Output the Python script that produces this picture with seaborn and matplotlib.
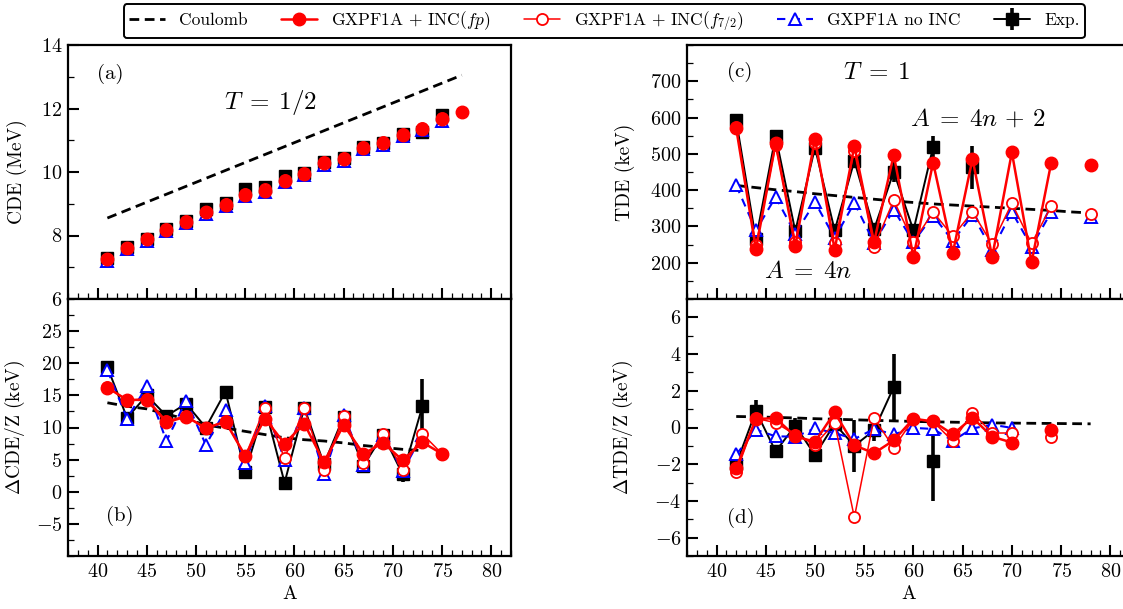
import numpy as np
import pandas as pd
import matplotlib
matplotlib.use("Agg")
import matplotlib.pyplot as plt
import seaborn as sns
from matplotlib.lines import Line2D
from matplotlib.ticker import MultipleLocator

nan = np.nan

# ---------------- data ----------------
A_odd = [41, 43, 45, 47, 49, 51, 53, 55, 57, 59, 61, 63, 65, 67, 69, 71, 73, 75, 77]
A_even = [42, 44, 46, 48, 50, 52, 54, 56, 58, 60, 62, 64, 66, 68, 70, 72, 74, 76, 78]

# panel (a): CDE (MeV)
cde_coul = [8.55, 8.80, 9.05, 9.30, 9.55, 9.80, 10.05, 10.30, 10.55, 10.80, 11.05, 11.30,
            11.55, 11.80, 12.05, 12.30, 12.55, 12.80, 13.05]
cde_fp = [7.26, 7.60, 7.88, 8.17, 8.44, 8.73, 8.96, 9.27, 9.40, 9.72, 9.93, 10.27, 10.40,
          10.75, 10.90, 11.17, 11.35, 11.66, 11.88]
cde_f72 = [7.27, 7.62, 7.90, 8.20, 8.46, 8.75, 8.98, 9.30, 9.45, 9.75, 9.97, 10.30, 10.44,
           10.78, 10.93, 11.20, 11.38, 11.70, nan]
cde_noinc = [7.21, 7.56, 7.84, 8.13, 8.40, 8.69, 8.92, 9.23, 9.37, 9.68, 9.89, 10.23, 10.36,
             10.71, 10.86, 11.13, 11.31, 11.62, nan]
cde_exp = [7.28, 7.65, 7.90, 8.22, 8.47, 8.82, 9.02, 9.48, 9.52, 9.88, 9.97, 10.30, 10.45,
           10.78, 10.92, 11.20, 11.25, 11.80, nan]

# panel (b): Delta CDE / Z (keV)
dcde_coul = [13.85, 13.3, 12.9, 12.1, 11.3, 10.4, 9.9, 9.4, 8.9, 8.4, 8.1, 7.9, 7.6, 7.2,
             6.9, 6.6, 6.4, nan, nan]
dcde_fp = [16.2, 14.3, 14.3, 10.8, 11.7, 9.9, 10.9, 5.6, 11.4, 7.5, 10.6, 4.6, 10.4, 5.9,
           7.6, 4.9, 7.7, 5.9, nan]
dcde_f72 = [16.3, 14.2, 14.5, 11.0, 11.8, 9.9, 11.0, 5.5, 13.1, 5.2, 13.0, 3.4, 11.8, 4.5,
            9.0, 3.4, 9.0, 5.9, nan]
dcde_noinc = [18.9, 11.4, 16.4, 7.9, 14.2, 7.3, 12.7, 4.5, 13.3, 5.0, 13.1, 2.7, 12.0, 4.2,
              8.9, 3.2, 8.9, nan, nan]
dcde_exp = [19.4, 11.5, 15.0, 11.8, 13.7, 10.0, 15.6, 3.0, 13.2, 1.4, 13.1, 4.3, 11.7, 4.0,
            8.9, 2.7, 13.3, nan, nan]
dcde_err = [0.3, 0.3, 0.3, 0.3, 0.3, 0.3, 0.3, 0.3, 0.3, 0.3, 0.3, 0.5, 0.5, 1.0, 0.5, 1.2,
            4.3, nan, nan]

# panel (c): TDE (keV)
tde_coul = [413, 407, 401, 396, 390, 385, 380, 375, 370, 366, 362, 359, 356, 353, 350, 347,
            344, 340, 337]
tde_fp = [570, 237, 529, 246, 542, 236, 522, 257, 497, 216, 476, 227, 486, 216, 504, 201,
          476, nan, 470]
tde_f72 = [575, 248, 524, 258, 531, 255, 508, 244, 372, 257, 340, 273, 340, 251, 364, 253,
           356, nan, 334]
tde_noinc = [413, 289, 381, 280, 367, 268, 365, 255, 346, 257, 330, 260, 332, 235, 340, 244,
             340, nan, 326]
tde_exp = [592, 264, 549, 287, 517, 289, 481, 292, 451, 289, 519, nan, 463, nan, nan, nan,
           nan, nan, nan]
tde_err = [5, 5, 5, 5, 5, 5, 5, 5, 28, 5, 30, nan, 60, nan, nan, nan, nan, nan, nan]

# panel (d): Delta TDE / Z (keV)
dtde_coul = [0.60, 0.58, 0.55, 0.52, 0.48, 0.45, 0.42, 0.39, 0.36, 0.33, 0.31, 0.29, 0.27,
             0.25, 0.24, 0.23, 0.22, 0.21, 0.20]
dtde_fp = [-2.2, 0.46, 0.51, -0.48, -0.78, 0.82, -0.97, -1.4, -0.7, 0.48, 0.33, -0.37, 0.53,
           -0.5, -0.82, nan, -0.12, nan, nan]
dtde_f72 = [-2.45, 0.5, 0.26, -0.39, -0.93, 0.25, -4.9, 0.52, -1.1, 0.45, 0.33, -0.75, 0.79,
            -0.3, -0.3, nan, -0.53, nan, nan]
dtde_noinc = [-1.47, -0.12, -0.48, -0.5, -0.05, -0.3, -0.63, -0.08, -0.38, -0.02, -0.08,
              -0.72, -0.05, 0.15, -0.02, nan, nan, nan, nan]
dtde_exp = [-2.0, 0.9, -1.3, 0.1, -1.5, 0.2, -1.0, -0.15, 2.2, nan, -1.8, nan, nan, nan, nan,
            nan, nan, nan, nan]
dtde_err = [0.2, 0.6, 0.2, 0.4, 0.2, 0.2, 1.4, 0.6, 1.8, nan, 2.2, nan, nan, nan, nan, nan,
            nan, nan, nan]

xticks = [40, 45, 50, 55, 60, 65, 70, 75, 80]

# ---------------- style ----------------
sns.set_style("ticks")
plt.rcParams.update({
    "font.family": ["cmr10", "DejaVu Serif"],
    "mathtext.fontset": "cm",
    "axes.formatter.use_mathtext": True,
    "axes.linewidth": 1.6,
    "axes.edgecolor": "black",
    "xtick.direction": "in",
    "ytick.direction": "in",
    "xtick.major.size": 8, "ytick.major.size": 8,
    "xtick.minor.size": 4, "ytick.minor.size": 4,
    "xtick.major.width": 1.5, "ytick.major.width": 1.5,
    "xtick.minor.width": 0.9, "ytick.minor.width": 0.9,
    "xtick.labelsize": 14.5, "ytick.labelsize": 14.5,
    "axes.labelsize": 14,
    "xtick.color": "black", "ytick.color": "black",
    "text.color": "black", "axes.labelcolor": "black",
})

RED = "#ff0000"
BLUE = "#0000ff"

sty_coul = dict(color="black", lw=2.0, linestyle=(0, (3.5, 2)), zorder=2)
sty_exp = dict(color="black", lw=1.4, marker="s", markersize=8, mfc="black", mec="black",
               mew=1, zorder=3)
sty_noinc = dict(color=BLUE, lw=1.5, linestyle=(0, (4, 3)), marker="^", markersize=8.5,
                 mfc="white", mec=BLUE, mew=1.4, zorder=4)
sty_f72 = dict(color=RED, lw=1.1, marker="o", markersize=8, mfc="white", mec=RED, mew=1.3,
               zorder=5)
sty_fp = dict(color=RED, lw=1.8, marker="o", markersize=9, mfc=RED, mec=RED, mew=1,
              zorder=6)


def draw(ax, x, y, lines=True, **kw):
    x = np.asarray(x, float)
    y = np.asarray(y, float)
    ok = ~np.isnan(y)
    seg = np.cumsum(~ok)
    df = pd.DataFrame({"A": x[ok], "v": y[ok], "seg": seg[ok]})
    kw = dict(kw)
    if not lines:
        kw["linestyle"] = "none"
    for _, d in df.groupby("seg"):
        sns.lineplot(data=d, x="A", y="v", ax=ax, estimator=None, sort=False,
                     legend=False, **kw)


def errbars(ax, x, y, e):
    ax.errorbar(x, y, yerr=e, fmt="none", ecolor="black", elinewidth=2.6, capsize=0,
                zorder=3)


fig = plt.figure(figsize=(11.23, 6.09), dpi=100)
W = 443 / 1123
ax_a = fig.add_axes([68 / 1123, 310 / 609, W, 254 / 609])
ax_b = fig.add_axes([68 / 1123, 53 / 609, W, 257 / 609])
ax_c = fig.add_axes([687 / 1123, 310 / 609, W, 254 / 609])
ax_d = fig.add_axes([687 / 1123, 53 / 609, W, 257 / 609])

# (a)
draw(ax_a, A_odd, cde_coul, **sty_coul)
draw(ax_a, A_odd, cde_exp, lines=False, **sty_exp)
draw(ax_a, A_odd, cde_noinc, lines=False, **sty_noinc)
draw(ax_a, A_odd, cde_f72, lines=False, **sty_f72)
draw(ax_a, A_odd, cde_fp, lines=False, **sty_fp)

# (b)
draw(ax_b, A_odd, dcde_coul, **sty_coul)
errbars(ax_b, A_odd, dcde_exp, dcde_err)
draw(ax_b, A_odd, dcde_exp, **sty_exp)
draw(ax_b, A_odd, dcde_noinc, **sty_noinc)
draw(ax_b, A_odd, dcde_f72, **sty_f72)
draw(ax_b, A_odd, dcde_fp, **sty_fp)

# (c)
draw(ax_c, A_even, tde_coul, **sty_coul)
errbars(ax_c, A_even, tde_exp, tde_err)
draw(ax_c, A_even, tde_exp, **sty_exp)
draw(ax_c, A_even, tde_noinc, **sty_noinc)
draw(ax_c, A_even, tde_f72, **sty_f72)
draw(ax_c, A_even, tde_fp, **sty_fp)

# (d)
draw(ax_d, A_even, dtde_coul, **sty_coul)
errbars(ax_d, A_even, dtde_exp, dtde_err)
draw(ax_d, A_even, dtde_exp, **sty_exp)
draw(ax_d, A_even, dtde_noinc, **sty_noinc)
draw(ax_d, A_even, dtde_f72, **sty_f72)
draw(ax_d, A_even, dtde_fp, **sty_fp)

# axes formatting
for ax in (ax_a, ax_b, ax_c, ax_d):
    ax.set_xlim(37, 82)
    ax.set_xticks(xticks)
    ax.xaxis.set_minor_locator(MultipleLocator(1))
    ax.tick_params(which="both", top=False, right=False)
    ax.tick_params(axis="y", which="major", pad=4)
    ax.tick_params(axis="x", which="major", pad=5)
    for s in ax.spines.values():
        s.set_visible(True)
        s.set_linewidth(1.6)
    ax.set_xlabel("")

ax_a.set_ylim(6, 14)
ax_a.set_yticks([6, 8, 10, 12, 14])
ax_a.yaxis.set_minor_locator(MultipleLocator(1))
ax_a.tick_params(axis="x", labelbottom=False)

ax_b.set_ylim(-10, 30)
ax_b.set_yticks([-5, 0, 5, 10, 15, 20, 25])
ax_b.yaxis.set_minor_locator(MultipleLocator(2.5))

ax_c.set_ylim(100, 800)
ax_c.set_yticks([200, 300, 400, 500, 600, 700])
ax_c.yaxis.set_minor_locator(MultipleLocator(50))
ax_c.tick_params(axis="x", labelbottom=False)

ax_d.set_ylim(-7, 7)
ax_d.set_yticks([-6, -4, -2, 0, 2, 4, 6])
ax_d.yaxis.set_minor_locator(MultipleLocator(1))

ax_a.set_ylabel("CDE (MeV)")
ax_b.set_ylabel(r"$\Delta$CDE/Z (keV)")
ax_c.set_ylabel("TDE (keV)")
ax_d.set_ylabel(r"$\Delta$TDE/Z (keV)")
for ax in (ax_a, ax_b):
    ax.yaxis.set_label_coords(-0.093, 0.5)
for ax in (ax_c, ax_d):
    ax.yaxis.set_label_coords(-0.117, 0.5)
for ax in (ax_b, ax_d):
    ax.set_xlabel("A")
    ax.xaxis.set_label_coords(0.5, -0.115)

# annotations
ax_a.text(41.3, 13.1, "(a)", fontsize=15, ha="center", va="center")
ax_a.text(57.6, 12.2, r"$T\;=\;1/2$", fontsize=18, ha="center", va="center")
ax_b.text(42.3, -3.8, "(b)", fontsize=15, ha="center", va="center")
ax_c.text(42.4, 727, "(c)", fontsize=15, ha="center", va="center")
ax_c.text(56.3, 723, r"$T\;=\;1$", fontsize=18, ha="center", va="center")
ax_c.text(66.5, 595, r"$A\;=\;4n\,+\,2$", fontsize=18, ha="center", va="center")
ax_c.text(49.3, 175, r"$A\;=\;4n$", fontsize=18, ha="center", va="center")
ax_d.text(42.5, -4.9, "(d)", fontsize=15, ha="center", va="center")

# legend
h_coul = Line2D([], [], color="black", lw=2.0, linestyle=(0, (3.5, 2)))
h_fp = Line2D([], [], color=RED, lw=1.8, marker="o", markersize=9, mfc=RED, mec=RED)
h_f72 = Line2D([], [], color=RED, lw=1.1, marker="o", markersize=8, mfc="white", mec=RED,
               mew=1.3)
h_noinc = Line2D([], [], color=BLUE, lw=1.5, linestyle=(0, (4, 3)), marker="^",
                 markersize=8.5, mfc="white", mec=BLUE, mew=1.4)
h_exp = (Line2D([], [], color="black", lw=1.4, marker="s", markersize=8, mfc="black",
                mec="black"),
         Line2D([], [], linestyle="none", marker="|", markersize=16, mew=2.6, color="black"))
leg = fig.legend([h_coul, h_fp, h_f72, h_noinc, h_exp],
                 ["Coulomb", r"GXPF1A + INC($fp$)", r"GXPF1A + INC($f_{7/2}$)",
                  "GXPF1A no INC", "Exp."],
                 loc="upper center", bbox_to_anchor=(0.538, 0.999), ncol=5, fontsize=12.5,
                 frameon=True, fancybox=True, framealpha=1, edgecolor="black",
                 handlelength=2.1, columnspacing=1.9, borderpad=0.3, handletextpad=0.8,
                 borderaxespad=0.2)
leg.get_frame().set_linewidth(1.4)

fig.savefig("out.png", dpi=100)
